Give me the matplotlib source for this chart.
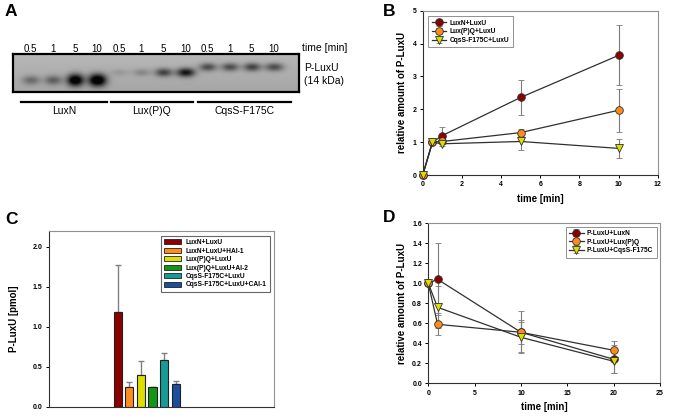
import numpy as np
import matplotlib
matplotlib.use("Agg")
import matplotlib.pyplot as plt
from matplotlib.patches import Patch

plt.rcParams['font.family'] = ['Liberation Sans', 'DejaVu Sans']

# ---------------- data ----------------
# Panel A (blot): lane time labels, groups, band darkness (0..1)
lane_times = ["0.5", "1", "5", "10"]
blot_groups = ["LuxN", "Lux(P)Q", "CqsS-F175C"]
band_luxn = [0.30, 0.36, 0.95, 1.00]
band_luxpq = [0.10, 0.18, 0.50, 0.72]
band_cqss = [0.45, 0.45, 0.50, 0.45]

# Panel B
b_time = [0, 0.5, 1, 5, 10]
b_luxn = [0, 1.0, 1.20, 2.36, 3.64]
b_luxn_err = [0, 0, 0.26, 0.52, 0.91]
b_luxpq = [0, 1.0, 1.02, 1.29, 1.97]
b_luxpq_err = [0, 0, 0.05, 0.10, 0.65]
b_cqss = [0, 1.0, 0.95, 1.02, 0.81]
b_cqss_err = [0, 0, 0.07, 0.25, 0.29]
b_labels = ["LuxN+LuxU", "Lux(P)Q+LuxU", "CqsS-F175C+LuxU"]

# Panel C
c_labels = ["LuxN+LuxU", "LuxN+LuxU+HAI-1", "Lux(P)Q+LuxU",
            "Lux(P)Q+LuxU+AI-2", "CqsS-F175C+LuxU", "CqsS-F175C+LuxU+CAI-1"]
c_values = [1.19, 0.25, 0.40, 0.25, 0.59, 0.28]
c_err = [0.58, 0.06, 0.17, 0.0, 0.08, 0.04]

# Panel D
d_time = [0, 1, 10, 20]
d_luxn = [1.0, 1.04, 0.51, 0.24]
d_luxn_err = [0, 0.36, 0.12, 0.14]
d_luxpq = [1.0, 0.59, 0.51, 0.33]
d_luxpq_err = [0, 0.11, 0.21, 0.09]
d_cqss = [1.0, 0.76, 0.46, 0.22]
d_cqss_err = [0, 0.21, 0.15, 0.12]
d_labels = ["P-LuxU+LuxN", "P-LuxU+Lux(P)Q", "P-LuxU+CqsS-F175C"]

# ---------------- style ----------------
c_red = "#8c0000"
c_orange = "#ff8c1a"
c_yellow = "#dede00"
c_green = "#149614"
c_teal = "#169c94"
c_blue = "#1a4f9e"
bar_colors = [c_red, c_orange, c_yellow, c_green, c_teal, c_blue]

W, H = 674, 420
fig = plt.figure(figsize=(W / 100, H / 100), dpi=100)

def px_axes(x0, y0, x1, y1, **kw):
    return fig.add_axes([x0 / W, 1 - y1 / H, (x1 - x0) / W, (y1 - y0) / H], **kw)

# overlay for labels in panel A
ov = px_axes(0, 0, W, H)
ov.set_xlim(0, W)
ov.set_ylim(H, 0)
ov.axis("off")

for lab, x, y in [("A", 11, 12), ("B", 389, 11), ("C", 11, 219), ("D", 389, 218)]:
    ov.text(x, y, lab, fontsize=12.5, fontweight="bold", ha="center", va="center")

# ---------------- Panel A blot ----------------
ax_a = px_axes(12.7, 54, 299.3, 92.3)
lane_sp = 22.1
xl0 = (12.7 - 30.7) / lane_sp
xl1 = (299.3 - 30.7) / lane_sp
nx, ny = 600, 90
xs = np.linspace(xl0, xl1, nx)
ys = np.linspace(0, 1, ny)
XX, YY = np.meshgrid(xs, ys)
bg = 0.72 - 0.07 * YY
dark = np.zeros_like(XX)
band_sets = [(band_luxn, 0.70), (band_luxpq, 0.50), (band_cqss, 0.36)]
for g, (bands, yb) in enumerate(band_sets):
    for j, d in enumerate(bands):
        lane = g * 4 + j
        sx = 0.40 - 0.03 * d + (0.03 if j == 3 else 0.0)
        sy = 0.10 + 0.06 * d if g == 0 else 0.09 + 0.035 * d
        prof = np.exp(-np.abs((XX - lane) / sx) ** 2.2 - np.abs((YY - yb) / sy) ** 2)
        dark += 1.3 * d * prof
img = bg * (1 - np.clip(dark, 0, 1.0) * 0.97)
img = np.clip(img, 0.0, 1.0)
ax_a.imshow(img, cmap="gray", vmin=0, vmax=1, extent=[xl0, xl1, 1, 0],
            aspect="auto", interpolation="bilinear")
ax_a.set_xlim(xl0, xl1)
ax_a.set_ylim(1, 0)
ax_a.set_xticks([])
ax_a.set_yticks([])
for s in ax_a.spines.values():
    s.set_linewidth(1.6)
    s.set_color("black")

# lane labels
for g in range(3):
    for j, t in enumerate(lane_times):
        xpx = 30.7 + lane_sp * (g * 4 + j)
        ov.text(xpx, 49, t, fontsize=7, ha="center", va="center")
ov.text(302, 48, "time [min]", fontsize=7.5, ha="left", va="center")
ov.text(304, 68, "P-LuxU", fontsize=7.5, ha="left", va="center")
ov.text(304, 81, "(14 kDa)", fontsize=7.5, ha="left", va="center")
group_spans = [(20.7, 107.3), (110.7, 192.7), (198.3, 290.7)]
for (x0, x1), name in zip(group_spans, blot_groups):
    ov.plot([x0, x1], [102.3, 102.3], color="black", lw=1.6)
    ov.text((x0 + x1) / 2, 111.5, name, fontsize=7.5, ha="center", va="center")

def style_axes(ax):
    for side in ["left", "bottom"]:
        ax.spines[side].set_color("#303030")
        ax.spines[side].set_linewidth(0.8)
    for side in ["top", "right"]:
        ax.spines[side].set_color("#909090")
        ax.spines[side].set_linewidth(0.8)
    ax.tick_params(direction="out", length=2.5, width=0.7, labelsize=5, pad=2)
    for lab in ax.get_xticklabels() + ax.get_yticklabels():
        lab.set_fontweight("bold")

def line_series(ax, x, y, e, color, marker, label, ms):
    ax.errorbar(x, y, yerr=e, color="#303030", lw=0.9, ecolor="#7a7a7a",
                elinewidth=0.8, capsize=2.5, capthick=0.8, marker=marker,
                markersize=ms, markerfacecolor=color, markeredgecolor="#303030",
                markeredgewidth=0.6, label=label, zorder=3)

# ---------------- Panel B ----------------
ax_b = px_axes(422.7, 10.7, 657.7, 175)
line_series(ax_b, b_time, b_luxn, b_luxn_err, c_red, "o", b_labels[0], 5.5)
line_series(ax_b, b_time, b_luxpq, b_luxpq_err, c_orange, "o", b_labels[1], 5.5)
line_series(ax_b, b_time, b_cqss, b_cqss_err, c_yellow, "v", b_labels[2], 5.5)
ax_b.set_xlim(0, 12)
ax_b.set_ylim(0, 5)
ax_b.set_xticks(range(0, 13, 2))
ax_b.set_yticks(range(0, 6))
ax_b.set_xlabel("time [min]", fontsize=7, fontweight="bold", labelpad=4)
ax_b.set_ylabel("relative amount of P-LuxU", fontsize=7, fontweight="bold", labelpad=4)
ax_b.patch.set_alpha(0)
style_axes(ax_b)
for art in ax_b.get_children():
    if hasattr(art, "set_clip_on"):
        art.set_clip_on(False)
leg = ax_b.legend(loc="upper left", bbox_to_anchor=(0.01, 0.985),
                  frameon=True, fancybox=False, borderpad=0.5, handlelength=2.2,
                  labelspacing=0.25, handletextpad=0.5, prop={"weight": "bold", "size": 4.8})
leg.get_frame().set_edgecolor("#606060")
leg.get_frame().set_linewidth(0.6)

# ---------------- Panel C ----------------
ax_c = px_axes(49, 230.7, 274, 406.7)
sp = 11.6
xc = np.arange(len(c_values))
ax_c.bar(xc, c_values, width=0.69, color=bar_colors, edgecolor="#202020", linewidth=0.8, zorder=2)
ax_c.errorbar(xc, c_values, yerr=[np.zeros(len(c_err)), c_err], fmt="none",
              ecolor="#808080", elinewidth=1.0, capsize=2.5, capthick=1.0, zorder=1)
ax_c.set_xlim((49 - 117.7) / sp, (274 - 117.7) / sp)
ax_c.set_ylim(0, 2.2)
ax_c.set_yticks([0.0, 0.5, 1.0, 1.5, 2.0])
ax_c.set_yticklabels(["0.0", "0.5", "1.0", "1.5", "2.0"])
ax_c.set_xticks([])
ax_c.set_ylabel("P-LuxU [pmol]", fontsize=7, fontweight="bold", labelpad=10)
style_axes(ax_c)
handles = [Patch(facecolor=c, edgecolor="#202020", linewidth=0.6) for c in bar_colors]
leg = ax_c.legend(handles, c_labels, loc="upper right", bbox_to_anchor=(0.995, 0.99),
                  fancybox=False, borderpad=0.5, handlelength=2.6, handleheight=0.8,
                  labelspacing=0.22, handletextpad=0.6,
                  prop={"weight": "bold", "size": 4.8})
leg.get_frame().set_edgecolor("#404040")
leg.get_frame().set_linewidth(0.8)

# ---------------- Panel D ----------------
ax_d = px_axes(428.3, 223.3, 660, 383.3)
line_series(ax_d, d_time, d_luxn, d_luxn_err, c_red, "o", d_labels[0], 5.5)
line_series(ax_d, d_time, d_luxpq, d_luxpq_err, c_orange, "o", d_labels[1], 5.5)
line_series(ax_d, d_time, d_cqss, d_cqss_err, c_yellow, "v", d_labels[2], 5.5)
ax_d.set_xlim(0, 25)
ax_d.set_ylim(0, 1.6)
ax_d.set_xticks(range(0, 26, 5))
ax_d.set_yticks(np.arange(0, 1.61, 0.2))
ax_d.set_yticklabels([f"{v:.1f}" for v in np.arange(0, 1.61, 0.2)])
ax_d.set_xlabel("time [min]", fontsize=7, fontweight="bold", labelpad=4)
ax_d.set_ylabel("relative amount of P-LuxU", fontsize=7, fontweight="bold", labelpad=4)
ax_d.patch.set_alpha(0)
style_axes(ax_d)
for art in ax_d.get_children():
    if hasattr(art, "set_clip_on"):
        art.set_clip_on(False)
leg = ax_d.legend(loc="upper right", bbox_to_anchor=(1.0, 1.0),
                  fancybox=False, borderpad=0.5, handlelength=2.2,
                  labelspacing=0.25, handletextpad=0.5,
                  prop={"weight": "bold", "size": 4.8})
leg.get_frame().set_edgecolor("#606060")
leg.get_frame().set_linewidth(0.6)

fig.savefig("out.png", dpi=100)
